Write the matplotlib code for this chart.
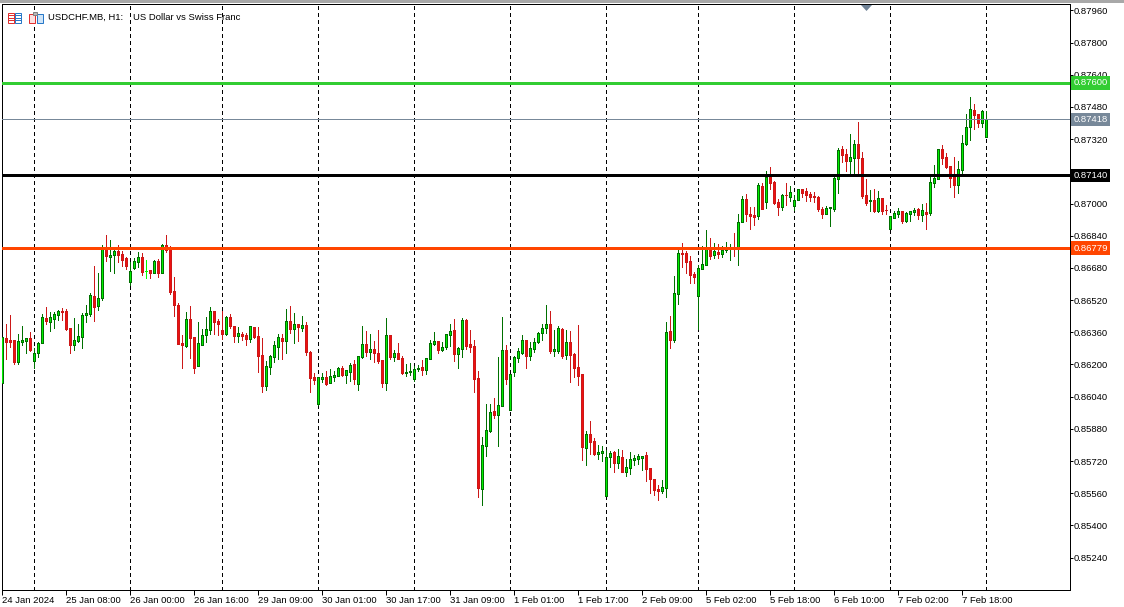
import matplotlib
matplotlib.use('Agg')
import matplotlib.pyplot as plt
from matplotlib.patches import Rectangle, Polygon

# USDCHF H1 candles, prices in points (1/100000)
opens = [
    86108, 86333, 86320, 86320, 86211, 86310, 86317, 86330, 86216, 86255,
    86305, 86429, 86409, 86424, 86444, 86464, 86464, 86379, 86295, 86315,
    86335, 86444, 86449, 86538, 86493, 86533, 86783, 86736, 86746, 86766,
    86751, 86727, 86612, 86682, 86707, 86736, 86664, 86672, 86657, 86712,
    86657, 86796, 86786, 86563, 86498, 86305, 86290, 86424, 86335, 86191,
    86295, 86345, 86370, 86464, 86414, 86370, 86350, 86434, 86389, 86340,
    86350, 86345, 86325, 86384, 86340, 86246, 86092, 86186, 86236, 86285,
    86330, 86315, 86414, 86375, 86399, 86380, 86394, 86261, 86137, 86003,
    86127, 86137, 86107, 86137, 86141, 86181, 86146, 86161, 86201, 86102,
    86236, 86300, 86261, 86275, 86256, 86221, 86107, 86345, 86236, 86256,
    86231, 86159, 86164, 86127, 86180, 86186, 86171, 86226, 86300, 86315,
    86270, 86285, 86345, 86370, 86251, 86275, 86419, 86300, 86290, 86132,
    85581, 85794, 85869, 85968, 85948, 85993, 86270, 85973, 86161, 86231,
    86256, 86320, 86241, 86275, 86310, 86355, 86380, 86399, 86266, 86266,
    86375, 86246, 86310, 86251, 86186, 86151, 85785, 85854, 85819, 85755,
    85760, 85546, 85740, 85765, 85710, 85740, 85665, 85685, 85725, 85730,
    85735, 85750, 85685, 85631, 85581, 85571, 85586, 86365, 86320, 86548,
    86756, 86752, 86712, 86652, 86538, 86677, 86697, 86780, 86742, 86757,
    86747, 86767, 86772, 86777, 86777, 86910, 87025, 86950, 86945, 86940,
    87089, 87010, 87148, 87109, 87010, 86985, 87045, 87034, 86990, 87019,
    87074, 87064, 87049, 87039, 87034, 86975, 86950, 86979, 86975, 87124,
    87272, 87248, 87213, 87228, 87297, 87228, 87044, 87014, 87019, 86965,
    87029, 86969, 86876, 86930, 86950, 86965, 86915, 86950, 86960, 86975,
    86945, 86960, 86955, 87104, 87124, 87272, 87233, 87188, 87134, 87094,
    87168, 87297, 87381, 87466, 87446, 87401, 87332,
]
highs = [
    86337, 86403, 86444, 86320, 86350, 86389, 86330, 86360, 86280, 86310,
    86449, 86488, 86459, 86459, 86472, 86479, 86474, 86379, 86429, 86399,
    86454, 86498, 86553, 86692, 86657, 86796, 86846, 86821, 86786, 86796,
    86766, 86736, 86707, 86727, 86761, 86756, 86717, 86672, 86717, 86722,
    86801, 86846, 86791, 86637, 86508, 86345, 86459, 86493, 86335, 86409,
    86374, 86434, 86488, 86464, 86424, 86464, 86439, 86449, 86389, 86384,
    86360, 86355, 86389, 86384, 86386, 86330, 86216, 86246, 86315, 86350,
    86350, 86474, 86489, 86454, 86399, 86439, 86409, 86266, 86156, 86137,
    86156, 86166, 86176, 86166, 86186, 86191, 86171, 86206, 86221, 86241,
    86389, 86365, 86350, 86315, 86370, 86221, 86429, 86345, 86270, 86305,
    86241, 86201, 86206, 86191, 86196, 86221, 86231, 86320, 86360, 86315,
    86310, 86350, 86399, 86424, 86285, 86429, 86424, 86370, 86320, 86166,
    85839, 86003, 86003, 86032, 86236, 86434, 86295, 86151, 86241, 86280,
    86345, 86320, 86310, 86330, 86360, 86399, 86494, 86464, 86370, 86390,
    86380, 86370, 86365, 86256, 86394, 86151, 85869, 85918, 85834, 85799,
    85794, 85775, 85770, 85770, 85780, 85775, 85730, 85765, 85750, 85755,
    85745, 85765, 85685, 85631, 85601, 85626, 86409, 86439, 86642, 86775,
    86806, 86766, 86737, 86662, 86697, 86787, 86871, 86831, 86806, 86801,
    86791, 86811, 86801, 86856, 86950, 87039, 87049, 86985, 86985, 87104,
    87104, 87163, 87183, 87114, 87024, 87049, 87104, 87089, 87044, 87074,
    87074, 87079, 87059, 87059, 87039, 86985, 86990, 86983, 87138, 87277,
    87287, 87272, 87347, 87317, 87406, 87257, 87124, 87069, 87074, 87064,
    87029, 86995, 86940, 86965, 86980, 86965, 86960, 86965, 86980, 86980,
    87000, 87005, 87134, 87193, 87272, 87292, 87253, 87188, 87233, 87213,
    87342, 87446, 87530, 87496, 87446, 87466, 87461,
]
lows = [
    86108, 86226, 86287, 86201, 86201, 86297, 86255, 86265, 86181, 86236,
    86305, 86399, 86365, 86379, 86419, 86419, 86370, 86255, 86270, 86310,
    86280, 86409, 86439, 86414, 86469, 86523, 86712, 86667, 86657, 86707,
    86692, 86677, 86593, 86677, 86687, 86647, 86632, 86632, 86657, 86637,
    86657, 86761, 86548, 86439, 86300, 86181, 86285, 86231, 86156, 86191,
    86295, 86310, 86350, 86350, 86345, 86325, 86345, 86379, 86310, 86310,
    86320, 86295, 86310, 86330, 86161, 86062, 86072, 86151, 86211, 86226,
    86226, 86256, 86355, 86305, 86315, 86365, 86246, 86062, 86102, 85998,
    86112, 86097, 86107, 86117, 86141, 86141, 86107, 86117, 86102, 86072,
    86231, 86241, 86226, 86211, 86206, 86087, 86072, 86226, 86216, 86226,
    86151, 86141, 86146, 86117, 86166, 86146, 86151, 86226, 86295, 86256,
    86266, 86275, 86290, 86216, 86181, 86236, 86275, 86261, 86062, 85541,
    85502, 85745, 85864, 85933, 85794, 85993, 86102, 85973, 86142, 86211,
    86251, 86181, 86221, 86261, 86305, 86320, 86355, 86256, 86241, 86256,
    86231, 86226, 86112, 86137, 86097, 85725, 85700, 85755, 85750, 85730,
    85720, 85546, 85690, 85665, 85685, 85665, 85646, 85656, 85700, 85705,
    85675, 85621, 85561, 85551, 85527, 85561, 85542, 86280, 86310, 86499,
    86687, 86657, 86603, 86603, 86375, 86677, 86697, 86722, 86727, 86727,
    86732, 86757, 86717, 86737, 86697, 86906, 86915, 86876, 86895, 86925,
    86975, 86980, 87074, 87000, 86945, 86970, 86995, 87015, 86970, 87019,
    87034, 87015, 87015, 87010, 86965, 86930, 86950, 86890, 86965, 87054,
    87208, 87163, 87143, 87143, 87138, 87029, 86995, 86965, 86960, 86960,
    86950, 86950, 86876, 86930, 86935, 86905, 86910, 86915, 86945, 86925,
    86915, 86876, 86945, 87084, 87124, 87198, 87178, 87084, 87034, 87054,
    87153, 87292, 87317, 87372, 87381, 87381, 87332,
]
closes = [
    86337, 86312, 86310, 86211, 86315, 86320, 86330, 86270, 86255, 86305,
    86434, 86414, 86434, 86449, 86464, 86460, 86374, 86295, 86320, 86340,
    86444, 86454, 86543, 86488, 86533, 86776, 86741, 86746, 86766, 86746,
    86717, 86692, 86667, 86712, 86736, 86662, 86666, 86657, 86712, 86657,
    86796, 86770, 86558, 86498, 86300, 86295, 86424, 86330, 86181, 86305,
    86345, 86374, 86464, 86409, 86399, 86350, 86434, 86389, 86340, 86355,
    86340, 86325, 86389, 86335, 86241, 86092, 86191, 86241, 86295, 86335,
    86315, 86414, 86375, 86399, 86385, 86394, 86261, 86132, 86122, 86137,
    86137, 86102, 86141, 86146, 86181, 86146, 86171, 86196, 86127, 86241,
    86300, 86261, 86275, 86256, 86216, 86107, 86345, 86236, 86256, 86226,
    86156, 86161, 86166, 86176, 86182, 86171, 86231, 86305, 86315, 86270,
    86285, 86350, 86365, 86251, 86280, 86419, 86290, 86285, 86127, 85586,
    85799, 85874, 85963, 85948, 85998, 86270, 86127, 86151, 86236, 86266,
    86320, 86241, 86280, 86310, 86355, 86380, 86399, 86266, 86275, 86380,
    86241, 86310, 86246, 86181, 86142, 85789, 85854, 85814, 85755, 85765,
    85770, 85740, 85760, 85710, 85745, 85665, 85690, 85730, 85735, 85745,
    85745, 85680, 85631, 85576, 85571, 85591, 86360, 86320, 86553, 86756,
    86747, 86707, 86647, 86637, 86682, 86702, 86775, 86737, 86762, 86747,
    86767, 86777, 86777, 86772, 86910, 87025, 86950, 86940, 86935, 87094,
    86975, 87134, 87104, 87005, 86985, 87044, 87043, 87059, 87019, 87074,
    87054, 87044, 87034, 87034, 86975, 86950, 86980, 86981, 87129, 87267,
    87243, 87213, 87233, 87297, 87228, 87039, 87005, 87016, 86965, 87029,
    86965, 86967, 86940, 86955, 86965, 86915, 86955, 86965, 86970, 86945,
    86970, 86950, 87109, 87129, 87272, 87228, 87183, 87129, 87094, 87173,
    87302, 87381, 87471, 87441, 87401, 87461, 87418,
]
bright_doji = [36]  # the one cross drawn in plain lime

separator_bars = [8, 32, 55, 79, 103, 127, 151, 174, 198, 222, 246]
date_bars = [0, 16, 32, 48, 64, 80, 96, 112, 128, 144, 160, 176, 192, 208, 224, 240]
date_labels = ['24 Jan 2024', '25 Jan 08:00', '26 Jan 00:00', '26 Jan 16:00',
               '29 Jan 09:00', '30 Jan 01:00', '30 Jan 17:00', '31 Jan 09:00',
               '1 Feb 01:00', '1 Feb 17:00', '2 Feb 09:00', '5 Feb 02:00',
               '5 Feb 18:00', '6 Feb 10:00', '7 Feb 02:00', '7 Feb 18:00']
price_ticks = [0.87960, 0.87800, 0.87640, 0.87480, 0.87320, 0.87160, 0.87000, 0.86840,
               0.86680, 0.86520, 0.86360, 0.86200, 0.86040, 0.85880, 0.85720, 0.85560,
               0.85400, 0.85240]
level_prices = [0.87600, 0.87140, 0.86779]
level_colors = ['#32cd32', '#000000', '#ff4500']
bid_price = 0.87418

W, H = 1124, 607
PX = 72 / 100  # one pixel in points

plt.rcParams['font.family'] = ['Liberation Sans', 'DejaVu Sans']
fig = plt.figure(figsize=(W / 100, H / 100), dpi=100, facecolor='white')
ax = fig.add_axes([1.5 / W, 1 - 590 / H, 1068 / W, (590 - 4) / H])
ax.set_xlim(0, 1068 / 4)
ax.set_ylim(0.85079, 0.87992)

for b in separator_bars:
    ax.axvline(b + 0.125, color='black', lw=PX, ls=(0, (4, 4)), zorder=1, antialiased=False)

for i in range(len(opens)):
    o, h, l, c = [v / 1e5 for v in (opens[i], highs[i], lows[i], closes[i])]
    up = c >= o
    wick = '#007000' if up else '#cc1818'
    fill = '#00f000' if up else '#ee1111'
    if i in bright_doji:
        wick = fill = '#00ff00'
    ax.vlines(i + 0.125, l, h, colors=wick, lw=PX, zorder=3, antialiased=False)
    ax.add_patch(Rectangle((i - 0.125, min(o, c)), 0.5, abs(c - o), facecolor=fill,
                           edgecolor=wick, lw=PX, zorder=4, antialiased=False))

ax.axhline(bid_price, color='#778899', lw=PX, zorder=5, antialiased=False)
for p, col in zip(level_prices, level_colors):
    ax.axhline(p, color=col, lw=3 * PX, zorder=6, antialiased=False)

ax.yaxis.tick_right()
ax.set_yticks(price_ticks)
ax.set_yticklabels(['%.5f' % p for p in price_ticks])
ax.set_xticks([b + 0.125 for b in date_bars])
ax.set_xticklabels(date_labels, ha='left')
ax.tick_params(axis='y', length=3 * PX, width=PX, pad=1, labelsize=6.8)
ax.tick_params(axis='x', length=5 * PX, width=PX, pad=0.5, labelsize=6.8)
for sp in ax.spines.values():
    sp.set_linewidth(PX)

# price tags on the scale
ytrans = ax.get_yaxis_transform()
for p, col in zip(level_prices + [bid_price], level_colors + ['#778899']):
    ax.text(1.0035, p, '%.5f' % p, transform=ytrans, color='white', fontsize=6.8,
            va='center', ha='left', clip_on=False, zorder=20,
            bbox=dict(facecolor=col, edgecolor='none', pad=1.6))

# window chrome, in pixel coordinates
top = fig.add_axes([0, 0, 1, 1], facecolor='none')
top.set_xlim(0, W)
top.set_ylim(H, 0)
top.axis('off')
top.add_patch(Rectangle((0, 0), W, 3, facecolor='#a8a8a8', edgecolor='none'))
top.add_patch(Polygon([[861, 5], [872, 5], [866.5, 11]], facecolor='#6f8296', edgecolor='none'))
top.text(48, 17.5, 'USDCHF.MB, H1:', fontsize=6.8, va='center', ha='left')
top.text(133, 17.5, 'US Dollar vs Swiss Franc', fontsize=6.8, va='center', ha='left')

# menu icons beside the title
top.add_patch(Rectangle((7.5, 12.5), 6, 10, facecolor='white', edgecolor='#e03030', lw=PX))
top.add_patch(Rectangle((14.5, 12.5), 6, 10, facecolor='white', edgecolor='#2878c8', lw=PX))
for yy in (15, 17.5, 20):
    top.plot([8.5, 13], [yy, yy], color='#e03030', lw=PX)
    top.plot([15.5, 20], [yy, yy], color='#2878c8', lw=PX)
top.add_patch(Rectangle((28.5, 13.5), 6, 9, facecolor='#fbe0e0', edgecolor='#e03030', lw=PX))
top.add_patch(Rectangle((36.5, 13.5), 6, 9, facecolor='#cfe4f7', edgecolor='#2878c8', lw=PX))
top.add_patch(Rectangle((33, 12), 4, 3, facecolor='#b8b8b8', edgecolor='#808080', lw=PX))

fig.savefig('out.png', dpi=100)
